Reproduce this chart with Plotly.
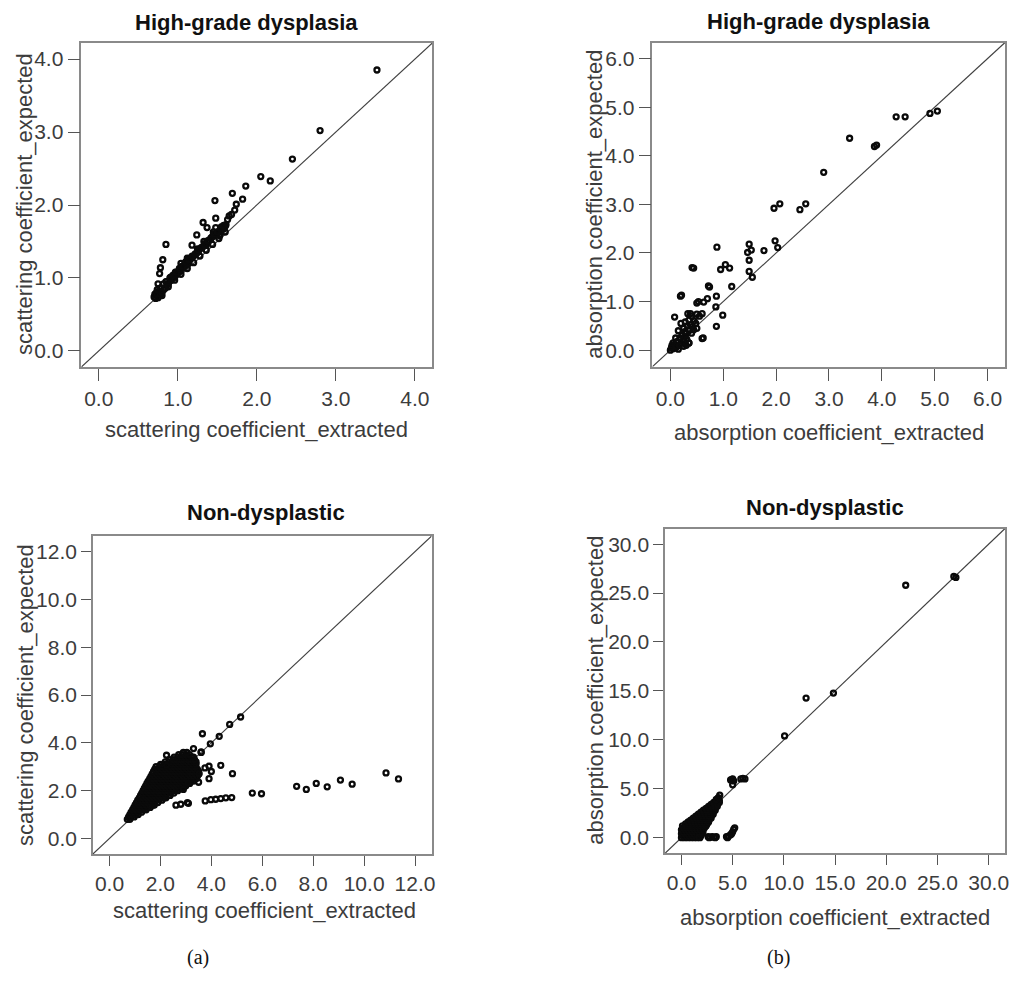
import plotly.graph_objects as go

W, H = 1018, 981

# ---- High-grade dysplasia: scattering coefficient (extracted vs expected)
hgd_sca_x = [3.52, 2.80, 2.45, 2.05, 2.17, 1.86, 1.69, 1.47, 1.82, 1.74, 1.72, 1.68,
             1.48, 1.63, 1.61, 1.32, 1.37, 1.48, 1.24, 1.18, 0.85, 0.81, 0.78, 0.77,
             0.75, 1.55, 1.65,
             0.70, 0.71, 0.72, 0.73, 0.74, 0.75, 0.76, 0.78, 0.80, 0.82, 0.84, 0.86,
             0.88, 0.90, 0.92, 0.94, 0.96, 0.98, 1.00, 1.02, 1.04, 1.05, 1.07, 1.08,
             1.10, 1.12, 1.14, 1.16, 1.18, 1.20, 1.22, 1.24, 1.26, 1.28, 1.30, 1.32,
             1.34, 1.36, 1.38, 1.40, 1.42, 1.44, 1.46, 1.48, 1.50, 1.52, 1.55, 1.58,
             1.60, 1.04, 1.12, 0.97, 1.25, 1.33, 1.45, 0.91, 0.85, 0.79, 1.53,
             0.74, 0.78, 0.82, 0.86, 0.90, 0.94, 0.98, 1.02, 1.06, 1.10, 1.14, 1.18,
             1.22, 1.26, 1.30, 1.34, 1.38, 1.42, 1.46, 1.50, 1.54, 1.58,
             0.80, 0.88, 0.96, 1.04, 1.12, 1.20, 1.28, 1.36, 1.44, 1.52, 1.60]
hgd_sca_y = [3.85, 3.02, 2.63, 2.39, 2.33, 2.26, 2.16, 2.06, 2.08, 2.01, 1.93, 1.87,
             1.82, 1.80, 1.73, 1.76, 1.69, 1.69, 1.59, 1.45, 1.46, 1.25, 1.14, 1.06,
             0.92, 1.70, 1.85,
             0.74, 0.78, 0.72, 0.80, 0.76, 0.73, 0.82, 0.77, 0.76, 0.84, 0.86, 0.90,
             0.92, 0.96, 0.98, 1.00, 1.03, 1.05, 1.07, 1.09, 1.12, 1.16, 1.14, 1.18,
             1.17, 1.22, 1.21, 1.26, 1.28, 1.30, 1.32, 1.34, 1.36, 1.40, 1.41, 1.43,
             1.47, 1.45, 1.50, 1.52, 1.55, 1.57, 1.58, 1.60, 1.62, 1.63, 1.65, 1.67,
             1.71, 1.20, 1.27, 1.08, 1.40, 1.50, 1.63, 1.01, 0.95, 0.86, 1.58,
             0.84, 0.86, 0.92, 0.95, 1.00, 1.04, 1.08, 1.13, 1.16, 1.22, 1.25, 1.30,
             1.33, 1.38, 1.42, 1.46, 1.51, 1.54, 1.60, 1.63, 1.68, 1.72,
             0.80, 0.88, 0.97, 1.05, 1.13, 1.21, 1.30, 1.38, 1.46, 1.54, 1.63]

# ---- High-grade dysplasia: absorption coefficient
hgd_abs_x = [5.05, 4.91, 4.27, 4.44, 3.39, 3.86, 3.90, 2.90, 2.45, 2.56, 1.96, 2.07,
             1.98, 2.03, 1.77, 1.49, 1.46, 1.53, 1.49, 1.49, 1.55, 0.88, 0.95, 1.04,
             1.12, 0.44, 0.41, 1.16, 0.74, 0.72, 0.19, 0.21, 0.86, 0.70, 0.63, 0.50,
             0.53, 0.87, 0.99, 0.87, 0.60, 0.62, 0.08, 0.38, 0.50, 0.35,
             0.00, 0.05, 0.10, 0.15, 0.03, 0.08, 0.12, 0.20, 0.25, 0.18, 0.22, 0.28,
             0.30, 0.35, 0.25, 0.32, 0.38, 0.42, 0.20, 0.28, 0.45, 0.35, 0.40, 0.33,
             0.15, 0.10, 0.05, 0.30, 0.35, 0.25, 0.40, 0.48, 0.55, 0.60, 0.50, 0.02,
             0.13, 0.17, 0.27, 0.31, 0.44]
hgd_abs_y = [4.92, 4.87, 4.80, 4.80, 4.36, 4.19, 4.22, 3.66, 2.89, 3.01, 2.92, 3.01,
             2.25, 2.11, 2.05, 2.18, 2.01, 2.06, 1.85, 1.62, 1.50, 2.12, 1.66, 1.76,
             1.69, 1.69, 1.70, 1.31, 1.30, 1.32, 1.11, 1.13, 0.89, 1.06, 0.99, 0.97,
             1.00, 1.11, 0.72, 0.49, 0.24, 0.25, 0.68, 0.75, 0.74, 0.15,
             0.00, 0.03, 0.05, 0.02, 0.10, 0.12, 0.08, 0.15, 0.20, 0.25, 0.30, 0.28,
             0.35, 0.40, 0.45, 0.50, 0.52, 0.48, 0.55, 0.58, 0.60, 0.62, 0.70, 0.75,
             0.40, 0.25, 0.15, 0.10, 0.15, 0.08, 0.35, 0.55, 0.70, 0.75, 0.45, 0.05,
             0.18, 0.10, 0.38, 0.22, 0.42]

# ---- Non-dysplastic: scattering coefficient (scattered points)
nd_sca_x = [5.15, 4.72, 4.31, 3.65, 3.96, 3.30, 3.60, 2.24, 2.24, 4.37, 3.91, 4.00,
            3.91, 4.83, 3.50, 3.52, 3.09, 2.90, 2.61, 2.80, 3.06, 3.10, 3.76, 3.98,
            4.17, 4.37, 4.57, 4.80, 5.61, 5.97, 7.35, 7.73, 8.12, 8.55, 9.07, 9.53,
            10.86, 11.35, 3.75, 3.60]
nd_sca_y = [5.08, 4.77, 4.27, 4.38, 3.96, 3.76, 3.62, 3.48, 3.06, 3.06, 3.02, 2.80,
            2.50, 2.71, 2.35, 2.71, 2.32, 2.05, 1.39, 1.43, 1.50, 1.47, 1.57, 1.62,
            1.64, 1.67, 1.70, 1.71, 1.90, 1.87, 2.18, 2.05, 2.30, 2.16, 2.44, 2.27,
            2.74, 2.49, 2.95, 3.60]
# dense core of the non-dysplastic scattering cloud, listed row by row
nd_sca_core_rows_y = [0.8, 0.9, 1.0, 1.1, 1.2, 1.3, 1.4, 1.5, 1.6, 1.7, 1.8, 1.9,
                      2.0, 2.1, 2.2, 2.3, 2.4, 2.5, 2.6, 2.7, 2.8, 2.9, 3.0, 3.1,
                      3.2, 3.3, 3.4, 3.5, 3.6]
nd_sca_core_rows_x = [
    [0.70, 0.80],
    [0.75, 0.86, 0.97],
    [0.80, 0.92, 1.03, 1.13],
    [0.85, 0.98, 1.12, 1.26],
    [0.91, 1.04, 1.18, 1.31, 1.44],
    [0.96, 1.10, 1.24, 1.38, 1.52, 1.60],
    [1.01, 1.15, 1.29, 1.43, 1.57, 1.71, 1.76],
    [1.06, 1.20, 1.34, 1.48, 1.62, 1.76, 1.90],
    [1.11, 1.25, 1.39, 1.53, 1.67, 1.81, 1.95, 2.06],
    [1.17, 1.31, 1.45, 1.59, 1.73, 1.87, 2.01, 2.15, 2.22],
    [1.22, 1.36, 1.50, 1.64, 1.78, 1.92, 2.06, 2.20, 2.34, 2.38],
    [1.27, 1.41, 1.55, 1.69, 1.83, 1.97, 2.11, 2.25, 2.39, 2.53],
    [1.32, 1.46, 1.60, 1.74, 1.88, 2.02, 2.16, 2.30, 2.44, 2.58, 2.68],
    [1.37, 1.51, 1.65, 1.79, 1.93, 2.07, 2.21, 2.35, 2.49, 2.63, 2.77, 2.85],
    [1.42, 1.56, 1.70, 1.84, 1.98, 2.12, 2.26, 2.40, 2.54, 2.68, 2.82, 2.96, 3.00],
    [1.47, 1.61, 1.75, 1.89, 2.03, 2.17, 2.31, 2.45, 2.59, 2.73, 2.87, 3.01, 3.15],
    [1.52, 1.66, 1.80, 1.94, 2.08, 2.22, 2.36, 2.50, 2.64, 2.78, 2.92, 3.06, 3.20, 3.30],
    [1.58, 1.72, 1.86, 2.00, 2.14, 2.28, 2.42, 2.56, 2.70, 2.84, 2.98, 3.12, 3.26, 3.40],
    [1.63, 1.77, 1.91, 2.05, 2.19, 2.33, 2.47, 2.61, 2.75, 2.89, 3.03, 3.17, 3.31, 3.45],
    [1.68, 1.82, 1.96, 2.10, 2.24, 2.38, 2.52, 2.66, 2.80, 2.94, 3.08, 3.22, 3.36, 3.50],
    [1.73, 1.87, 2.01, 2.15, 2.29, 2.43, 2.57, 2.71, 2.85, 2.99, 3.13, 3.27, 3.41, 3.50],
    [1.78, 1.92, 2.06, 2.20, 2.34, 2.48, 2.62, 2.76, 2.90, 3.04, 3.18, 3.32, 3.45],
    [1.83, 1.97, 2.11, 2.25, 2.39, 2.53, 2.67, 2.81, 2.95, 3.09, 3.23, 3.37],
    [2.01, 2.15, 2.29, 2.43, 2.57, 2.71, 2.85, 2.99, 3.13, 3.27, 3.40],
    [2.19, 2.33, 2.47, 2.61, 2.75, 2.89, 3.03, 3.17, 3.31, 3.40],
    [2.36, 2.50, 2.64, 2.78, 2.92, 3.06, 3.20, 3.34],
    [2.54, 2.68, 2.82, 2.96, 3.10, 3.24, 3.30],
    [2.72, 2.86, 3.00, 3.14],
    [2.90, 3.04],
]

# ---- Non-dysplastic: absorption coefficient (scattered points)
nd_abs_x = [21.9, 26.6, 26.8, 12.17, 14.84, 10.07, 4.8, 5.0, 5.1, 4.94, 5.8, 6.0,
            6.2, 5.0, 3.74, 3.4, 3.6,
            2.6, 2.8, 3.0, 3.2, 3.4, 2.7, 3.3, 4.4, 4.6, 4.8, 5.0, 5.1, 5.2, 4.5,
            4.9, 1.7]
nd_abs_y = [25.8, 26.7, 26.6, 14.27, 14.78, 10.4, 5.9, 6.0, 5.8, 5.95, 6.0, 6.06,
            6.0, 5.4, 4.34, 3.9, 4.1,
            0.1, 0.05, 0.1, 0.05, 0.1, 0.0, 0.0, 0.1, 0.15, 0.3, 0.6, 0.85, 1.0, 0.0,
            0.4, 0.05]
# dense core of the non-dysplastic absorption cloud, listed row by row
nd_abs_core_rows_y = [0.0, 0.2, 0.4, 0.6, 0.8, 1.0, 1.2, 1.4, 1.6, 1.8, 2.0, 2.2,
                      2.4, 2.6, 2.8, 3.0, 3.2, 3.4, 3.6, 3.8, 4.0]
nd_abs_core_rows_x = [
    [0.0, 0.3, 0.6, 0.9, 1.2, 1.5, 1.8],
    [0.15, 0.45, 0.75, 1.05, 1.35, 1.65, 1.9],
    [0.0, 0.3, 0.6, 0.9, 1.2, 1.5, 1.8, 2.0],
    [0.15, 0.45, 0.75, 1.05, 1.35, 1.65, 1.95, 2.1],
    [0.0, 0.3, 0.6, 0.9, 1.2, 1.5, 1.8, 2.1],
    [0.15, 0.45, 0.75, 1.05, 1.35, 1.65, 1.95, 2.25],
    [0.1, 0.4, 0.7, 1.0, 1.3, 1.6, 1.9, 2.2, 2.4],
    [0.4, 0.7, 1.0, 1.3, 1.6, 1.9, 2.2, 2.5],
    [0.65, 0.95, 1.25, 1.55, 1.85, 2.15, 2.45, 2.65],
    [0.9, 1.2, 1.5, 1.8, 2.1, 2.4, 2.7],
    [1.15, 1.45, 1.75, 2.05, 2.35, 2.65, 2.9],
    [1.4, 1.7, 2.0, 2.3, 2.6, 2.9],
    [1.65, 1.95, 2.25, 2.55, 2.85, 3.1],
    [1.9, 2.2, 2.5, 2.8, 3.1],
    [2.15, 2.45, 2.75, 3.05, 3.3],
    [2.4, 2.7, 3.0, 3.3],
    [2.65, 2.95, 3.25, 3.5],
    [2.9, 3.2, 3.5],
    [3.15, 3.45, 3.7],
    [3.4, 3.7],
    [3.6],
]

# axis limits and tick values for each panel
hgd_sca_range = [-0.22, 4.22]
hgd_sca_ticks = [0.0, 1.0, 2.0, 3.0, 4.0]
hgd_abs_range = [-0.34, 6.33]
hgd_abs_ticks = [0.0, 1.0, 2.0, 3.0, 4.0, 5.0, 6.0]
nd_sca_range = [-0.65, 12.65]
nd_sca_ticks = [0.0, 2.0, 4.0, 6.0, 8.0, 10.0, 12.0]
nd_abs_range = [-1.6, 31.6]
nd_abs_ticks = [0.0, 5.0, 10.0, 15.0, 20.0, 25.0, 30.0]


def flatten_rows(rows_y, rows_x):
    xs, ys = [], []
    for yv, row in zip(rows_y, rows_x):
        xs.extend(row)
        ys.extend([yv] * len(row))
    return xs, ys


core_x, core_y = flatten_rows(nd_sca_core_rows_y, nd_sca_core_rows_x)
nd_sca_all_x = core_x + nd_sca_x
nd_sca_all_y = core_y + nd_sca_y
core_x, core_y = flatten_rows(nd_abs_core_rows_y, nd_abs_core_rows_x)
nd_abs_all_x = core_x + nd_abs_x
nd_abs_all_y = core_y + nd_abs_y


def px(x):
    return x / W


def py(y):
    return 1 - y / H


FONT = "Liberation Sans, Arial, sans-serif"
TICK_COLOR = "#3c3c3c"
FRAME = "#8a8a8a"

panels = [
    # (axis suffix, x data, y data, range, ticks, frame box in px: left, right, top, bottom,
    #  tick length)
    ("", hgd_sca_x, hgd_sca_y, hgd_sca_range, hgd_sca_ticks, (81.7, 434, 43, 367), 12),
    ("2", hgd_abs_x, hgd_abs_y, hgd_abs_range, hgd_abs_ticks, (655, 1009, 42.5, 366.7), 12),
    ("3", nd_sca_all_x, nd_sca_all_y, nd_sca_range, nd_sca_ticks, (93.3, 433.3, 536, 854), 10),
    ("4", nd_abs_all_x, nd_abs_all_y, nd_abs_range, nd_abs_ticks, (667.7, 1009, 528.5, 853.3), 10),
]

fig = go.Figure()
layout_axes = {}
for suffix, xs, ys, rng, ticks, box, tlen in panels:
    xa = "x" + suffix
    ya = "y" + suffix
    left, right, top, bottom = box
    # reference diagonal y = x spanning the full axis range
    fig.add_trace(go.Scatter(
        x=rng, y=rng, xaxis=xa, yaxis=ya, mode="lines",
        line=dict(color="#404040", width=1.1), hoverinfo="skip", showlegend=False))
    fig.add_trace(go.Scatter(
        x=xs, y=ys, xaxis=xa, yaxis=ya, mode="markers",
        marker=dict(symbol="circle-open", size=5, color="#0a0a0a",
                    line=dict(width=2.3, color="#0a0a0a")),
        showlegend=False))
    common = dict(
        range=rng, tickvals=ticks, tickformat=".1f", ticks="outside", ticklen=tlen,
        tickwidth=1.4, tickcolor="#555555", showline=True, linecolor=FRAME,
        linewidth=1.6, mirror=True, showgrid=False, zeroline=False,
        tickfont=dict(family=FONT, size=21, color=TICK_COLOR), fixedrange=True)
    layout_axes["xaxis" + suffix] = dict(
        common, domain=[px(left), px(right)], anchor=ya)
    layout_axes["yaxis" + suffix] = dict(
        common, domain=[py(bottom), py(top)], anchor=xa)

fig.update_layout(**layout_axes)

annotations = []


def text_at(txt, x, y, size=22, bold=False, angle=0, color=TICK_COLOR, family=FONT):
    annotations.append(dict(
        text=("<b>%s</b>" % txt) if bold else txt, x=px(x), y=py(y),
        xref="paper", yref="paper", showarrow=False, textangle=angle,
        xanchor="center", yanchor="middle",
        font=dict(family=family, size=size, color=color)))


# panel titles
text_at("High-grade dysplasia", 247, 23, bold=True, color="#111111")
text_at("High-grade dysplasia", 822, 22, bold=True, color="#111111")
text_at("Non-dysplastic", 267, 512, bold=True, color="#111111")
text_at("Non-dysplastic", 828, 507, bold=True, color="#111111")

# axis titles
text_at("scattering coefficient_extracted", 258, 430)
text_at("absorption coefficient_extracted", 832, 432)
text_at("scattering coefficient_extracted", 266, 910)
text_at("absorption coefficient_extracted", 838, 917)
text_at("scattering coefficient_expected", 25, 204, angle=-90)
text_at("absorption coefficient_expected", 597, 204, angle=-90)
text_at("scattering coefficient_expected", 25, 695, angle=-90)
text_at("absorption coefficient_expected", 597, 690, angle=-90)

# sub-figure labels
text_at("(a)", 199, 957, size=20, color="#111111",
        family="Liberation Serif, Times New Roman, serif")
text_at("(b)", 782, 957, size=20, color="#111111",
        family="Liberation Serif, Times New Roman, serif")

fig.update_layout(
    width=W, height=H, margin=dict(l=0, r=0, t=0, b=0),
    paper_bgcolor="white", plot_bgcolor="white",
    annotations=annotations, font=dict(family=FONT))

fig.write_html("out.html", config={"displayModeBar": False})
